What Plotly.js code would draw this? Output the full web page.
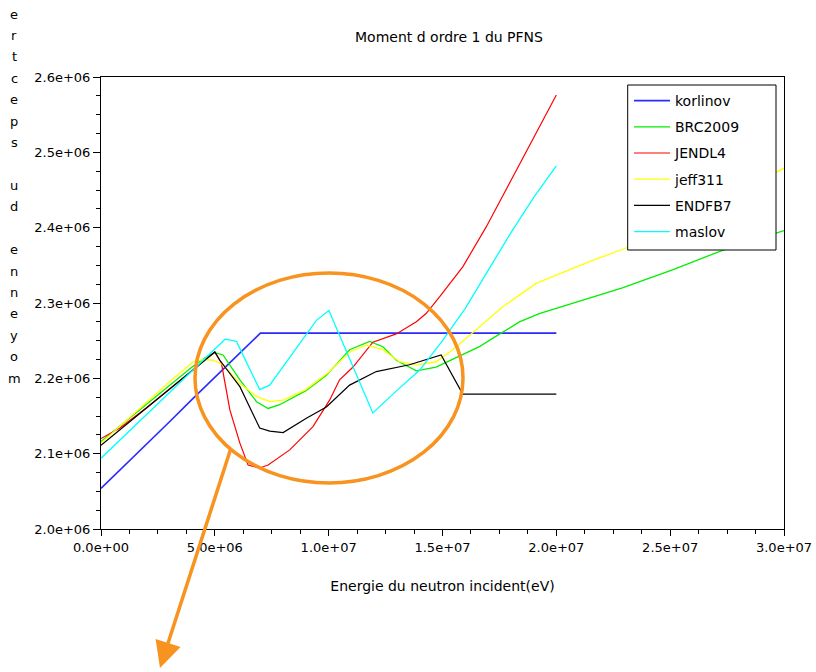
<!DOCTYPE html>
<html>
<head>
<meta charset="utf-8">
<script src="https://cdn.plot.ly/plotly-3.0.1.min.js"></script>
<style>html,body{margin:0;padding:0;background:#fff;}#chart{width:816px;height:672px;}</style>
</head>
<body>
<div id="chart"></div>
<script>
// ---- Data (energies in eV, values in eV) ----
var seriesNames = ["korlinov", "BRC2009", "JENDL4", "jeff311", "ENDFB7", "maslov"];

var korlinovE = [0, 1e6, 2e6, 3e6, 4e6, 5e6, 6e6, 7e6, 2.0e7];
var korlinovV = [2.054e6, 2.083e6, 2.113e6, 2.142e6, 2.172e6, 2.201e6, 2.231e6, 2.260e6, 2.260e6];

var brcE = [0, 1e6, 2e6, 3e6, 4e6, 4.6e6, 5.0e6, 5.36e6, 6.10e6, 6.83e6, 7.34e6, 7.85e6, 9.02e6, 9.90e6, 10.92e6, 11.80e6, 12.38e6, 12.97e6, 13.85e6, 14.72e6, 15.60e6, 16.62e6, 17.2e6, 18.38e6, 19.25e6, 20.72e6, 22.9e6, 25.1e6, 27.3e6, 3.0e7];
var brcV = [2.116e6, 2.141e6, 2.166e6, 2.190e6, 2.215e6, 2.228e6, 2.234e6, 2.231e6, 2.198e6, 2.169e6, 2.160e6, 2.165e6, 2.184e6, 2.204e6, 2.238e6, 2.249e6, 2.242e6, 2.224e6, 2.210e6, 2.215e6, 2.227e6, 2.242e6, 2.253e6, 2.275e6, 2.286e6, 2.300e6, 2.320e6, 2.344e6, 2.370e6, 2.396e6];

var jendlE = [0, 0.18e6, 0.5e6, 0.83e6, 2e6, 3e6, 4e6, 5e6, 5.29e6, 5.66e6, 6.10e6, 6.46e6, 6.97e6, 7.34e6, 8.29e6, 9.31e6, 10.04e6, 10.48e6, 11.07e6, 11.94e6, 12.97e6, 13.85e6, 14.28e6, 14.87e6, 15.89e6, 16.92e6, 17.79e6, 18.96e6, 2.0e7];
var jendlV = [2.120e6, 2.123e6, 2.129e6, 2.134e6, 2.161e6, 2.185e6, 2.210e6, 2.235e6, 2.220e6, 2.158e6, 2.114e6, 2.085e6, 2.081e6, 2.085e6, 2.105e6, 2.136e6, 2.171e6, 2.198e6, 2.215e6, 2.248e6, 2.259e6, 2.275e6, 2.286e6, 2.308e6, 2.348e6, 2.401e6, 2.450e6, 2.516e6, 2.576e6];

var jeffE = [0, 1e6, 2e6, 3e6, 4.05e6, 4.5e6, 4.93e6, 5.36e6, 6.10e6, 6.83e6, 7.41e6, 8.0e6, 9.0e6, 10.0e6, 10.92e6, 11.65e6, 12.38e6, 13.11e6, 13.85e6, 14.72e6, 15.45e6, 16.04e6, 16.62e6, 17.65e6, 19.11e6, 20.13e6, 21.45e6, 23.06e6, 3.0e7];
var jeffV = [2.114e6, 2.141e6, 2.168e6, 2.195e6, 2.222e6, 2.225e6, 2.224e6, 2.218e6, 2.193e6, 2.176e6, 2.169e6, 2.171e6, 2.185e6, 2.208e6, 2.235e6, 2.244e6, 2.238e6, 2.222e6, 2.218e6, 2.222e6, 2.238e6, 2.253e6, 2.269e6, 2.295e6, 2.326e6, 2.339e6, 2.355e6, 2.373e6, 2.479e6];

var endfE = [0, 5.0e6, 5.22e6, 6.10e6, 6.97e6, 7.41e6, 8.0e6, 9.02e6, 9.90e6, 10.92e6, 12.09e6, 13.55e6, 14.94e6, 15.89e6, 2.0e7];
var endfV = [2.111e6, 2.235e6, 2.224e6, 2.189e6, 2.134e6, 2.130e6, 2.128e6, 2.147e6, 2.162e6, 2.191e6, 2.209e6, 2.218e6, 2.231e6, 2.179e6, 2.179e6];

var maslovE = [0, 1e6, 2e6, 3e6, 4e6, 5e6, 5.45e6, 5.95e6, 6.97e6, 7.41e6, 8.5e6, 9.46e6, 10.01e6, 11.94e6, 13e6, 14e6, 15e6, 16e6, 17e6, 18e6, 19e6, 2.0e7];
var maslovV = [2.094e6, 2.123e6, 2.152e6, 2.181e6, 2.210e6, 2.238e6, 2.252e6, 2.249e6, 2.185e6, 2.191e6, 2.236e6, 2.277e6, 2.290e6, 2.154e6, 2.184e6, 2.211e6, 2.250e6, 2.293e6, 2.343e6, 2.393e6, 2.440e6, 2.482e6];

var xTickVals = [0, 5e6, 1e7, 1.5e7, 2e7, 2.5e7, 3e7];
var xTickText = ["0.0e+00", "5.0e+06", "1.0e+07", "1.5e+07", "2.0e+07", "2.5e+07", "3.0e+07"];
var yTickVals = [2.0e6, 2.1e6, 2.2e6, 2.3e6, 2.4e6, 2.5e6, 2.6e6];
var yTickText = ["2.0e+06", "2.1e+06", "2.2e+06", "2.3e+06", "2.4e+06", "2.5e+06", "2.6e+06"];

var titleText = "Moment d ordre 1 du PFNS";
var xTitleText = "Energie du neutron incident(eV)";
var yTitleText = "moyenne du spectre";

// ---- Build ----
var FONT = "DejaVu Sans";
var W = 816, H = 672;
var L = 101, R = 32, T = 77, B = 143;
var pw = W - L - R, ph = H - T - B;
function px(x) { return (x - L) / pw; }
function py(y) { return (H - B - y) / ph; }

// minor ticks: 4 subdivisions between consecutive major ticks
function minorBetween(vals) {
  var out = [];
  for (var k = 0; k < vals.length - 1; k++) {
    var step = (vals[k + 1] - vals[k]) / 4;
    for (var j = 1; j < 4; j++) out.push(vals[k] + j * step);
  }
  return out;
}

var xs = [korlinovE, brcE, jendlE, jeffE, endfE, maslovE];
var ys = [korlinovV, brcV, jendlV, jeffV, endfV, maslovV];
var colors = ["#2a2aff", "#00ee00", "#ff0000", "#ffff00", "#000000", "#00ffff"];
var widths = [1.6, 1.3, 1.2, 1.3, 1.2, 1.3];

var traces = seriesNames.map(function (n, i) {
  return {
    x: xs[i], y: ys[i], name: n, type: "scatter", mode: "lines",
    line: { color: colors[i], width: widths[i] },
    legendgroup: "g" + i, hoverinfo: "x+y+name"
  };
});

var annotations = [];
// vertical stacked letters for y label (reading bottom to top)
for (var i = 0; i < yTitleText.length; i++) {
  var ch = yTitleText.charAt(i);
  if (ch === " ") continue;
  annotations.push({
    text: ch, xref: "paper", yref: "paper",
    x: px(14), y: py(378 - i * 21.4),
    xanchor: "center", yanchor: "middle", showarrow: false,
    font: { family: FONT, size: 13, color: "#000" }
  });
}
// orange arrow
annotations.push({
  text: "", xref: "paper", yref: "paper",
  x: px(160), y: py(668), axref: "pixel", ayref: "pixel",
  ax: 71, ay: -220, showarrow: true, arrowhead: 2, arrowsize: 1.5,
  arrowwidth: 3.5, arrowcolor: "#f7931e", standoff: 0, startstandoff: 0
});

var layout = {
  width: W, height: H,
  margin: { l: L, r: R, t: T, b: B, pad: 0 },
  paper_bgcolor: "#fff", plot_bgcolor: "#fff",
  font: { family: FONT, size: 13, color: "#000" },
  title: {
    text: titleText, xref: "paper", x: px(449), xanchor: "center",
    yref: "container", y: 1 - 37 / H, yanchor: "middle",
    font: { family: FONT, size: 14, color: "#000" }
  },
  xaxis: {
    range: [0, 3e7], tickmode: "array", tickvals: xTickVals, ticktext: xTickText,
    ticks: "outside", ticklen: 6, tickwidth: 1, tickcolor: "#000",
    showline: true, linecolor: "#000", linewidth: 1, mirror: true,
    showgrid: false, zeroline: false,
    tickfont: { family: FONT, size: 13, color: "#000" },
    minor: { tickmode: "array", tickvals: minorBetween(xTickVals), ticks: "outside", ticklen: 4, tickwidth: 1, tickcolor: "#000", showgrid: false },
    title: { text: xTitleText, standoff: 27, font: { family: FONT, size: 14, color: "#000" } }
  },
  yaxis: {
    range: [2.0e6, 2.6e6], tickmode: "array", tickvals: yTickVals, ticktext: yTickText,
    ticks: "outside", ticklen: 7, tickwidth: 1, tickcolor: "#000",
    showline: true, linecolor: "#000", linewidth: 1, mirror: true,
    showgrid: false, zeroline: false,
    tickfont: { family: FONT, size: 13, color: "#000" },
    minor: { tickmode: "array", tickvals: minorBetween(yTickVals), ticks: "outside", ticklen: 4, tickwidth: 1, tickcolor: "#000", showgrid: false }
  },
  showlegend: true,
  legend: {
    x: px(629), y: py(85), xanchor: "left", yanchor: "top",
    bgcolor: "rgba(0,0,0,0)", borderwidth: 0,
    traceorder: "grouped", tracegroupgap: 5, itemwidth: 36,
    font: { family: FONT, size: 14, color: "#000" }
  },
  shapes: [
    { type: "rect", xref: "paper", yref: "paper", layer: "above",
      x0: px(627.7), x1: px(776), y0: py(250), y1: py(85),
      fillcolor: "#fff", line: { color: "#000", width: 1 } },
    { type: "circle", xref: "paper", yref: "paper", layer: "above",
      x0: px(195), x1: px(463), y0: py(483), y1: py(273),
      line: { color: "#f7931e", width: 3.5 } }
  ],
  annotations: annotations
};

Plotly.newPlot("chart", traces, layout, { displayModeBar: false, responsive: false });
</script>
</body>
</html>
